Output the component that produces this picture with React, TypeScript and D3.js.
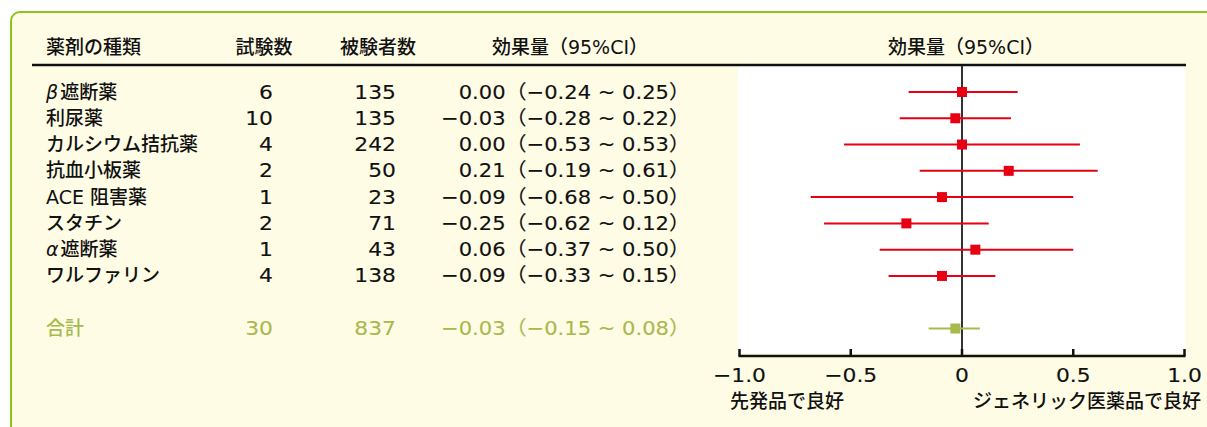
import React from 'react';
import * as d3 from 'd3';

const drugs = ['β|遮断薬', '利尿薬', 'カルシウム拮抗薬', '抗血小板薬', 'ACE 阻害薬', 'スタチン', 'α|遮断薬', 'ワルファリン'];
const trials = [6, 10, 4, 2, 1, 2, 1, 4];
const subjects = [135, 135, 242, 50, 23, 71, 43, 138];
const effects = [0.0, -0.03, 0.0, 0.21, -0.09, -0.25, 0.06, -0.09];
const ciLow = [-0.24, -0.28, -0.53, -0.19, -0.68, -0.62, -0.37, -0.33];
const ciHigh = [0.25, 0.22, 0.53, 0.61, 0.5, 0.12, 0.5, 0.15];
const totalLabel = '合計';
const totalTrials = 30;
const totalSubjects = 837;
const totalEffect = -0.03;
const totalLow = -0.15;
const totalHigh = 0.08;
const headers = ['薬剤の種類', '試験数', '被験者数', '効果量（95%CI）', '効果量（95%CI）'];
const axisTicks = [-1, -0.5, 0, 0.5, 1];
const tickLabels = ['−1.0', '−0.5', '0', '0.5', '1.0'];
const leftNote = '先発品で良好';
const rightNote = 'ジェネリック医薬品で良好';

const RED = '#e60012';
const GREEN_T = '#a9b94e';
const BORDER = '#8cc31f';
const CREAM = '#fffce6';
const FONT = '"DejaVu Sans", "Noto Sans CJK JP", sans-serif';
const SX = 1.12;

const fmt = (v: number) => (v < 0 ? '−' : '') + Math.abs(v).toFixed(2);
const ciText = (e: number, l: number, h: number) => `${fmt(e)}（${fmt(l)} ~ ${fmt(h)}）`;

function NT({ x, y, anchor, fill, children, sx = SX }: any) {
  return (
    <text transform={`translate(${x},${y}) scale(${sx},1)`} textAnchor={anchor} fill={fill}
      stroke={fill} strokeWidth={0.12} fontFamily={FONT} fontSize={19.5}>{children}</text>
  );
}

function Label({ s, x, y, fill }: any) {
  const parts = s.split('|');
  return (
    <text x={x} y={y} fill={fill} fontFamily={FONT} fontSize={19} fontWeight={500}>
      {parts.length > 1 ? (
        <>
          <tspan fontStyle="italic">{parts[0]}</tspan>
          <tspan dx={2}>{parts[1]}</tspan>
        </>
      ) : s}
    </text>
  );
}

export default function App() {
  const x = d3.scaleLinear().domain([-1, 1]).range([739.5, 1184.5]);
  const y = d3.scaleLinear().domain([0, 9]).range([92, 328.5]);
  const base = 6.5;
  const plotTop = 66;
  const axisY = 356;
  const colTrials = 273;
  const colSubj = 396;
  const colEff = 690;
  const effSx = 1.08;

  return (
    <svg width={1207} height={427} style={{ position: 'absolute', left: 0, top: 0 }}>
      <rect x={0} y={0} width={1207} height={427} fill="#ffffff" />
      <rect x={11} y={12} width={1230} height={440} rx={9} fill={CREAM} stroke={BORDER} strokeWidth={2} />

      {/* headers */}
      <g fontFamily={FONT} fontSize={19} fontWeight={500} fill="#111">
        <text x={46} y={53.5}>{headers[0]}</text>
        <text x={264} y={53.5} textAnchor="middle">{headers[1]}</text>
        <text x={378} y={53.5} textAnchor="middle">{headers[2]}</text>
        <text x={570} y={53.5} textAnchor="middle">{headers[3]}</text>
        <text x={966} y={53.5} textAnchor="middle">{headers[4]}</text>
      </g>

      {/* plot panel */}
      <rect x={738} y={plotTop} width={447} height={287} fill="#ffffff" />
      <line x1={32} x2={1186} y1={65} y2={65} stroke="#111" strokeWidth={2.5} />

      {/* rows */}
      {drugs.map((d, i) => (
        <g key={i}>
          <Label s={d} x={46} y={y(i) + base} fill="#111" />
          <NT x={colTrials} y={y(i) + base} anchor="end" fill="#111">{trials[i]}</NT>
          <NT x={colSubj} y={y(i) + base} anchor="end" fill="#111">{subjects[i]}</NT>
          <NT x={colEff} y={y(i) + base} anchor="end" fill="#111" sx={effSx}>{ciText(effects[i], ciLow[i], ciHigh[i])}</NT>
        </g>
      ))}
      <Label s={totalLabel} x={46} y={y(9) + base} fill={GREEN_T} />
      <NT x={colTrials} y={y(9) + base} anchor="end" fill={GREEN_T}>{totalTrials}</NT>
      <NT x={colSubj} y={y(9) + base} anchor="end" fill={GREEN_T}>{totalSubjects}</NT>
      <NT x={colEff} y={y(9) + base} anchor="end" fill={GREEN_T} sx={effSx}>{ciText(totalEffect, totalLow, totalHigh)}</NT>

      {/* zero line */}
      <line x1={x(0)} x2={x(0)} y1={plotTop} y2={axisY} stroke="#333" strokeWidth={2} />

      {/* forest marks */}
      {effects.map((e, i) => (
        <g key={i}>
          <line x1={x(ciLow[i])} x2={x(ciHigh[i])} y1={y(i)} y2={y(i)} stroke={RED} strokeWidth={2} />
          <rect x={x(e) - 5} y={y(i) - 5} width={10} height={10} fill={RED} />
        </g>
      ))}
      <line x1={x(totalLow)} x2={x(totalHigh)} y1={y(9)} y2={y(9)} stroke={GREEN_T} strokeWidth={2} />
      <rect x={x(totalEffect) - 5} y={y(9) - 5} width={10} height={10} fill={GREEN_T} />

      {/* axis */}
      <line x1={x(-1) - 1} x2={x(1) + 1} y1={axisY} y2={axisY} stroke="#111" strokeWidth={2.5} />
      {axisTicks.map((t, i) => (
        <g key={i}>
          <line x1={x(t)} x2={x(t)} y1={axisY} y2={axisY - 7} stroke="#111" strokeWidth={2.5} />
          <NT x={x(t)} y={381.5} anchor="middle" fill="#111">{tickLabels[i]}</NT>
        </g>
      ))}
      <g fontFamily={FONT} fontSize={19} fontWeight={500} fill="#111">
        <text x={730} y={407.5}>{leftNote}</text>
        <text x={1201} y={407.5} textAnchor="end">{rightNote}</text>
      </g>
    </svg>
  );
}
